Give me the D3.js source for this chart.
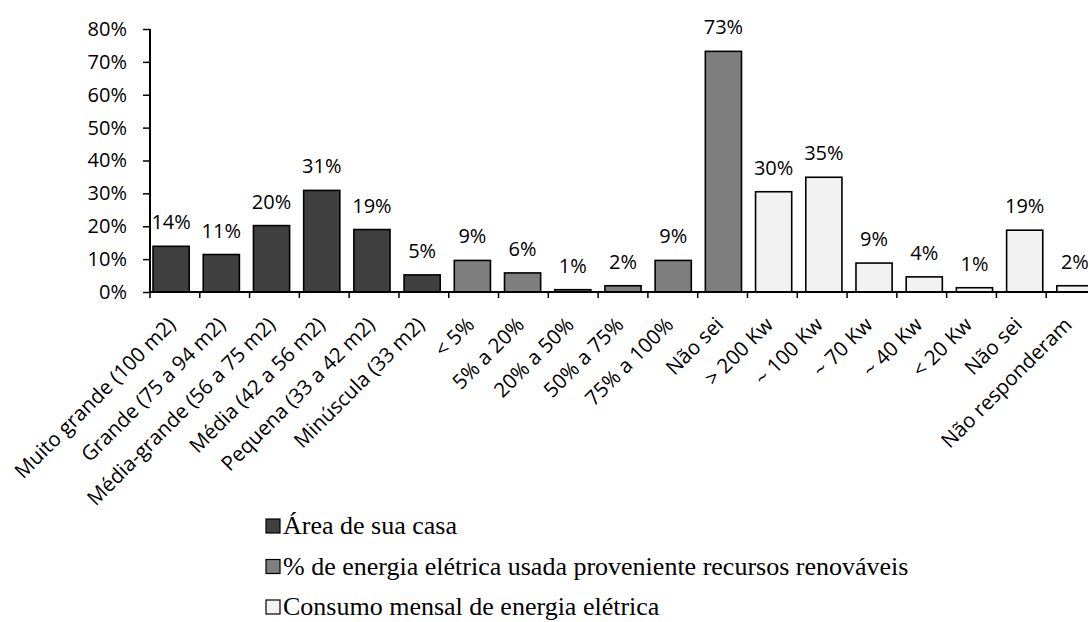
<!DOCTYPE html>
<html>
<head>
<meta charset="utf-8">
<script src="https://cdn.jsdelivr.net/npm/d3@7"></script>
<style>
  body { margin: 0; background: #fff; }
  svg { display: block; }
</style>
</head>
<body>
<script>

// Chart data

var categories = ["Muito grande (100 m2)", "Grande (75 a 94 m2)", "Média-grande (56 a 75 m2)",
  "Média (42 a 56 m2)", "Pequena (33 a 42 m2)", "Minúscula (33 m2)",
  "< 5%", "5% a 20%", "20% a 50%", "50% a 75%", "75% a 100%", "Não sei",
  "> 200 Kw", "~ 100 Kw", "~ 70 Kw", "~ 40 Kw", "< 20 Kw", "Não sei", "Não responderam"];

// which legend group each bar belongs to
var groupOf = [0, 0, 0, 0, 0, 0, 1, 1, 1, 1, 1, 1, 2, 2, 2, 2, 2, 2, 2];

// bar heights in percent
var values = [13.9, 11.4, 20.2, 30.9, 19.0, 5.2, 9.6, 5.8, 0.7, 1.9, 9.6, 73.2,
  30.5, 34.9, 8.8, 4.6, 1.3, 18.8, 1.9];

// label text printed above each bar
var valueLabels = [14, 11, 20, 31, 19, 5, 9, 6, 1, 2, 9, 73, 30, 35, 9, 4, 1, 19, 2];

var yTicks = [0, 10, 20, 30, 40, 50, 60, 70, 80];

var seriesNames = ["Área de sua casa",
  "% de energia elétrica usada proveniente recursos renováveis",
  "Consumo mensal de energia elétrica"];
var seriesColors = ["#404040", "#7f7f7f", "#f2f2f2"];

var width = 1088;
var height = 622;

var svg = d3.select("body").append("svg")
  .attr("width", width)
  .attr("height", height)
  .style("font-family", "'Open Sans', sans-serif");

var idx = d3.range(categories.length);

// ticks and labels use one band, bars sit on a slightly wider one
var xTick = d3.scaleBand().domain(idx).range([150, 1096]);
var xBar = d3.scaleBand().domain(idx).range([146, 1100]).paddingInner(0.28).paddingOuter(0.14);

var y = d3.scaleLinear().domain([0, 80]).range([292, 29]);

// Bars
svg.selectAll(".bar")
  .data(idx)
  .enter().append("rect")
    .attr("class", "bar")
    .attr("x", function(i) { return xBar(i); })
    .attr("width", xBar.bandwidth())
    .attr("y", function(i) { return y(values[i]); })
    .attr("height", function(i) { return y(0) - y(values[i]); })
    .attr("fill", function(i) { return seriesColors[groupOf[i]]; })
    .attr("stroke", "#000")
    .attr("stroke-width", 1.6);

// Value labels
svg.selectAll(".vlabel")
  .data(idx)
  .enter().append("text")
    .attr("class", "vlabel")
    .attr("x", function(i) { return xBar(i) + xBar.bandwidth() / 2; })
    .attr("y", function(i) { return y(values[i]) - 17; })
    .attr("text-anchor", "middle")
    .attr("font-size", 20)
    .attr("fill", "#000")
    .text(function(i) { return valueLabels[i] + "%"; });

// Y axis
var yAxis = d3.axisLeft(y)
  .tickValues(yTicks)
  .tickSize(7)
  .tickPadding(16)
  .tickFormat(function(d) { return d + "%"; });

var gy = svg.append("g")
  .attr("transform", "translate(150,0)")
  .call(yAxis);
gy.select(".domain").attr("stroke", "#000").attr("stroke-width", 2).attr("d", "M0,29V292");
gy.selectAll(".tick line").attr("stroke", "#000").attr("stroke-width", 1.5);
gy.selectAll("text")
  .attr("font-size", 20)
  .attr("font-family", "'Open Sans', sans-serif")
  .attr("fill", "#000");

// X axis line with ticks between categories
var tickPos = xTick.domain().map(function(i) { return xTick(i); }).concat([xTick.range()[1]]);

svg.append("line")
  .attr("x1", 150).attr("x2", width)
  .attr("y1", y(0)).attr("y2", y(0))
  .attr("stroke", "#000")
  .attr("stroke-width", 2);

svg.selectAll(".xtick")
  .data(tickPos)
  .enter().append("line")
    .attr("class", "xtick")
    .attr("x1", function(d) { return d; })
    .attr("x2", function(d) { return d; })
    .attr("y1", y(0))
    .attr("y2", y(0) + 6)
    .attr("stroke", "#000")
    .attr("stroke-width", 1.5);

// Rotated category labels
svg.selectAll(".xlabel")
  .data(idx)
  .enter().append("text")
    .attr("class", "xlabel")
    .attr("transform", function(i) {
      return "translate(" + (xTick(i) + xTick.bandwidth() / 2 + 2) + ",326) rotate(-45)";
    })
    .attr("text-anchor", "end")
    .attr("font-size", 20.5)
    .attr("fill", "#000")
    .text(function(i) { return categories[i]; });

// Legend
var legend = svg.selectAll(".legend")
  .data(seriesNames)
  .enter().append("g")
    .attr("class", "legend")
    .attr("transform", function(d, i) { return "translate(266," + (534 + i * 40.5) + ")"; });

legend.append("rect")
  .attr("x", 0)
  .attr("y", -15)
  .attr("width", 14)
  .attr("height", 14)
  .attr("fill", function(d, i) { return seriesColors[i]; })
  .attr("stroke", "#000")
  .attr("stroke-width", 1.2);

legend.append("text")
  .attr("x", 17)
  .attr("y", 0)
  .attr("font-family", "'Liberation Serif', 'Times New Roman', serif")
  .attr("font-size", 26)
  .attr("fill", "#000")
  .text(function(d) { return d; });

</script>
</body>
</html>
